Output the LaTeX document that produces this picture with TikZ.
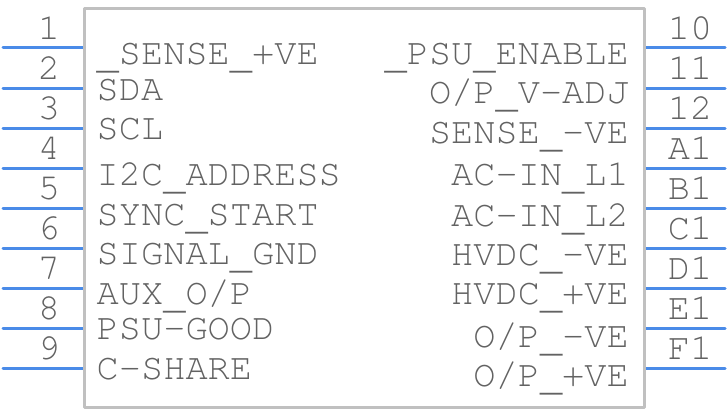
\documentclass[tikz,border=0pt]{standalone}
\usepackage{tkz-euclide}
\usepackage{tikz}
\usepackage{fontspec}
\newfontfamily\pinfont{TeX Gyre Cursor}
\definecolor{pinblue}{HTML}{4A8BE8}
\definecolor{boxgrey}{HTML}{C0C0C0}
\definecolor{txtgrey}{HTML}{626262}
\newcommand\usc{\raisebox{-4pt}{\_}}

\begin{document}
\begin{tikzpicture}[x=1pt, y=-1pt,
    pin/.style={color=pinblue, line width=3pt},
    frame/.style={color=boxgrey, line width=3pt},
    lbl/.style={inner sep=0pt, text=txtgrey, font=\pinfont\fontsize{37}{40}\selectfont}]
    \useasboundingbox (0,0) rectangle (728,412);
    \tkzDefPoints{84.5/8.5/A,644.5/8.5/B,644.5/407.5/C,84.5/407.5/D}
    % left pins
    \foreach \n [count=\i from 0] in {1,...,9}{
        \tkzDefPoint(3,48+40*\i){L\n}
        \tkzDefPoint(84.5,48+40*\i){l\n}
        \tkzDrawSegment[pin](L\n,l\n)
        \node[lbl, anchor=base] (nl\n) at (49,39.5+40*\i) {\n};
    }
    % right pins
    \foreach \n [count=\i from 0] in {10,11,12,A1,B1,C1,D1,E1,F1}{
        \tkzDefPoint(644.5,48+40*\i){r\n}
        \tkzDefPoint(725,48+40*\i){R\n}
        \tkzDrawSegment[pin](r\n,R\n)
        \node[lbl, anchor=base] (nr\n) at (690,39.5+40*\i) {\n};
    }
    \tkzDrawPolygon[frame](A,B,C,D)
    % left labels
    \node[lbl, anchor=base west] (sensep) at (96.5,65) {\usc SENSE\usc +VE};
    \node[lbl, anchor=base west] (sda) at (96.5,100) {SDA};
    \node[lbl, anchor=base west] (scl) at (96.5,139) {SCL};
    \node[lbl, anchor=base west] (iicaddr) at (96.5,185) {I2C\usc ADDRESS};
    \node[lbl, anchor=base west] (syncstart) at (96.5,225) {SYNC\usc START};
    \node[lbl, anchor=base west] (siggnd) at (96.5,264) {SIGNAL\usc GND};
    \node[lbl, anchor=base west] (auxop) at (96.5,304) {AUX\usc O/P};
    \node[lbl, anchor=base west] (psugood) at (96.5,339) {PSU-GOOD};
    \node[lbl, anchor=base west] (cshare) at (96.5,379) {C-SHARE};
    % right labels
    \node[lbl, anchor=base east] (psuen) at (629,65) {\usc PSU\usc ENABLE};
    \node[lbl, anchor=base east] (opvadj) at (629,103) {O/P\usc V-ADJ};
    \node[lbl, anchor=base east] (sensen) at (629,143) {SENSE\usc -VE};
    \node[lbl, anchor=base east] (acinl1) at (629,185) {AC-IN\usc L1};
    \node[lbl, anchor=base east] (acinl2) at (629,226) {AC-IN\usc L2};
    \node[lbl, anchor=base east] (hvdcn) at (629,265) {HVDC\usc -VE};
    \node[lbl, anchor=base east] (hvdcp) at (629,304) {HVDC\usc +VE};
    \node[lbl, anchor=base east] (opn) at (629,347) {O/P\usc -VE};
    \node[lbl, anchor=base east] (opp) at (629,386) {O/P\usc +VE};
\end{tikzpicture}
\end{document}
